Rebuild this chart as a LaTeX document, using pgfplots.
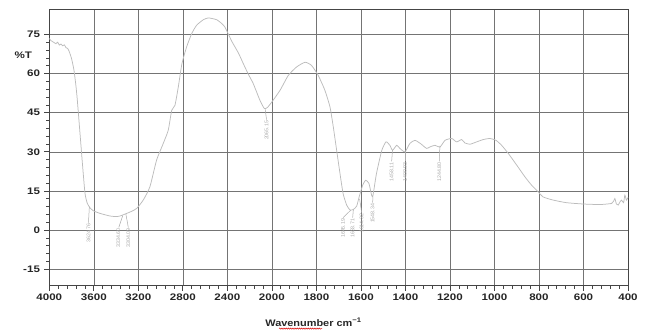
\documentclass[border=0pt]{standalone}
\usepackage{fontspec}
\setmainfont{Liberation Sans}
\usepackage{pgfplots}
\pgfplotsset{compat=1.18}
\usetikzlibrary{decorations.pathmorphing}
\definecolor{curvegray}{HTML}{BCBCBC}
\definecolor{gridgray}{HTML}{747474}
\definecolor{framegray}{HTML}{454545}
\definecolor{labgray}{HTML}{ABABAB}
\begin{document}
\begin{tikzpicture}
\useasboundingbox (0,0) rectangle (654pt,331pt);
\begin{axis}[
  at={(49.3pt,45.3pt)}, anchor=south west,
  scale only axis, width=578.7pt, height=276.4pt,
  xmin=0, xmax=13, ymin=-21.3, ymax=84.6,
  xtick={0,...,13},
  xticklabels={4000,3600,3200,2800,2400,2000,1800,1600,1400,1200,1000,800,600,400},
  ytick={-15,0,15,30,45,60,75},
  minor x tick num=4, minor y tick num=4,
  xtick pos=bottom, ytick pos=left,
  tick align=outside, major tick length=5pt, minor tick length=3pt,
  grid=major, major grid style={gridgray, line width=0.6pt},
  axis line style={framegray, line width=0.9pt},
  tick style={framegray, line width=0.7pt},
  minor tick style={framegray, line width=0.6pt},
  tick label style={font=\bfseries\fontsize{9.5}{10}\selectfont, xscale=1.22, text=black!85},
  /pgf/number format/assume math mode=true,
  clip=false,
]
\addplot[curvegray, line width=0.75pt, no marks, smooth, tension=0.35,
  x filter/.expression={x>=2000 ? (4000-x)/400 : 5+(2000-x)/200}]
  table[row sep=\\] {
  x y\\
  4000 73.4\\ 3985 72.6\\ 3970 72.2\\ 3955 71.8\\ 3940 71.4\\ 3925 72.0\\ 3910 70.9\\
  3895 71.3\\ 3880 70.6\\ 3865 71.0\\ 3850 69.9\\ 3835 69.6\\ 3820 68.3\\ 3800 65.7\\
  3778 61.2\\ 3760 55.0\\ 3748 49.7\\ 3724 37.0\\ 3700 24.2\\ 3679 14.0\\ 3658 10.2\\
  3630 8.3\\ 3604 7.4\\ 3544 6.4\\ 3455 5.4\\ 3400 5.2\\ 3365 5.4\\ 3304 6.4\\
  3260 7.2\\ 3215 8.3\\ 3156 11.5\\ 3096 16.6\\ 3036 26.8\\ 2976 33.2\\ 2931 38.3\\
  2900 45.9\\ 2871 47.8\\ 2841 54.8\\ 2808 63.8\\ 2766 70.2\\ 2720 75.3\\ 2676 78.5\\
  2616 80.6\\ 2572 81.3\\ 2530 81.0\\ 2496 80.6\\ 2460 79.5\\ 2422 77.8\\ 2361 72.4\\
  2300 67.8\\ 2257 63.8\\ 2210 59.6\\ 2167 56.1\\ 2107 49.7\\ 2068 46.6\\ 2040 47.0\\ 2000 49.1\\
  1963 53.6\\ 1926 59.3\\ 1889 62.5\\ 1851 64.3\\ 1822 63.1\\ 1792 59.3\\ 1762 53.6\\
  1739 47.2\\ 1724 39.5\\ 1709 30.6\\ 1694 21.7\\ 1680 14.0\\ 1664 9.6\\ 1649 7.7\\
  1634 7.9\\ 1619 9.2\\ 1608 12.7\\ 1592 17.2\\ 1579 19.1\\ 1564 17.9\\ 1552 13.4\\
  1546 13.2\\ 1530 21.7\\ 1506 30.6\\ 1487 33.8\\ 1470 32.5\\ 1458 30.6\\ 1439 32.5\\
  1425 31.3\\ 1402 30.0\\ 1380 33.2\\ 1357 34.4\\ 1330 33.0\\ 1305 31.3\\ 1289 31.9\\
  1267 32.5\\ 1245 31.8\\ 1222 34.4\\ 1192 35.1\\ 1170 33.8\\ 1147 34.7\\ 1133 33.4\\
  1110 32.9\\ 1080 33.8\\ 1050 34.7\\ 1020 35.1\\ 993 34.4\\ 968 32.5\\ 938 29.4\\
  900 24.9\\ 863 20.4\\ 833 17.2\\ 804 14.7\\ 781 12.7\\ 736 11.5\\ 676 10.5\\
  601 10.0\\ 526 9.8\\ 474 10.2\\ 465 11.0\\ 459 12.1\\ 452 10.0\\ 444 9.6\\
  436 10.8\\ 429 11.5\\ 420 10.5\\ 414 13.4\\ 407 11.5\\ 400 12.5\\
  };
% peak annotations
\tikzset{peaklab/.style={rotate=90, anchor=east, inner sep=0.4pt, text=labgray,
  font=\fontsize{5.3}{6}\selectfont}}
\draw[labgray, line width=0.5pt] (axis cs:0.90,9.0) -- (axis cs:0.88,2.9);
\node[peaklab] at (axis cs:0.88,2.7) {3624.76};
\draw[labgray, line width=0.5pt] (axis cs:1.65,5.6) -- (axis cs:1.56,1.0);
\node[peaklab] at (axis cs:1.55,0.8) {3334.60};
\draw[labgray, line width=0.5pt] (axis cs:1.72,6.2) -- (axis cs:1.775,1.0);
\node[peaklab] at (axis cs:1.775,0.8) {3304.09};
\draw[labgray, line width=0.5pt] (axis cs:4.85,46.3) -- (axis cs:4.88,42.3);
\node[peaklab] at (axis cs:4.88,42.1) {2065.15};
\draw[labgray, line width=0.5pt] (axis cs:6.77,7.6) -- (axis cs:6.60,4.8);
\node[peaklab] at (axis cs:6.60,4.6) {1645.19};
\draw[labgray, line width=0.5pt] (axis cs:6.83,7.8) -- (axis cs:6.815,4.8);
\node[peaklab] at (axis cs:6.815,4.6) {1633.71};
\draw[labgray, line width=0.5pt] (axis cs:6.97,12.0) -- (axis cs:7.017,6.7);
\node[peaklab] at (axis cs:7.017,6.5) {1614.32};
\draw[labgray, line width=0.5pt] (axis cs:7.27,13.0) -- (axis cs:7.264,10.5);
\node[peaklab] at (axis cs:7.264,10.3) {1548.34};
\draw[labgray, line width=0.5pt] (axis cs:7.71,30.6) -- (axis cs:7.69,26.3);
\node[peaklab] at (axis cs:7.69,26.1) {1458.11};
\draw[labgray, line width=0.5pt] (axis cs:7.99,30.0) -- (axis cs:7.99,26.3);
\node[peaklab] at (axis cs:7.99,26.1) {1400.93};
\draw[labgray, line width=0.5pt] (axis cs:8.775,32.3) -- (axis cs:8.76,26.3);
\node[peaklab] at (axis cs:8.76,26.1) {1244.80};
\end{axis}
\node[font=\bfseries\fontsize{9.5}{10}\selectfont, xscale=1.22, text=black!85] at (23.3pt,276pt) {\%T};
\node[font=\bfseries\fontsize{9.5}{10}\selectfont, xscale=1.15, text=black!85] at (313.5pt,8.6pt) {Wavenumber cm\textsuperscript{−1}};
\draw[red!85!black, line width=0.5pt, decorate, decoration={snake, amplitude=0.6pt, segment length=2.2pt}] (279pt,2.4pt) -- (322pt,2.4pt);
\end{tikzpicture}
\end{document}
